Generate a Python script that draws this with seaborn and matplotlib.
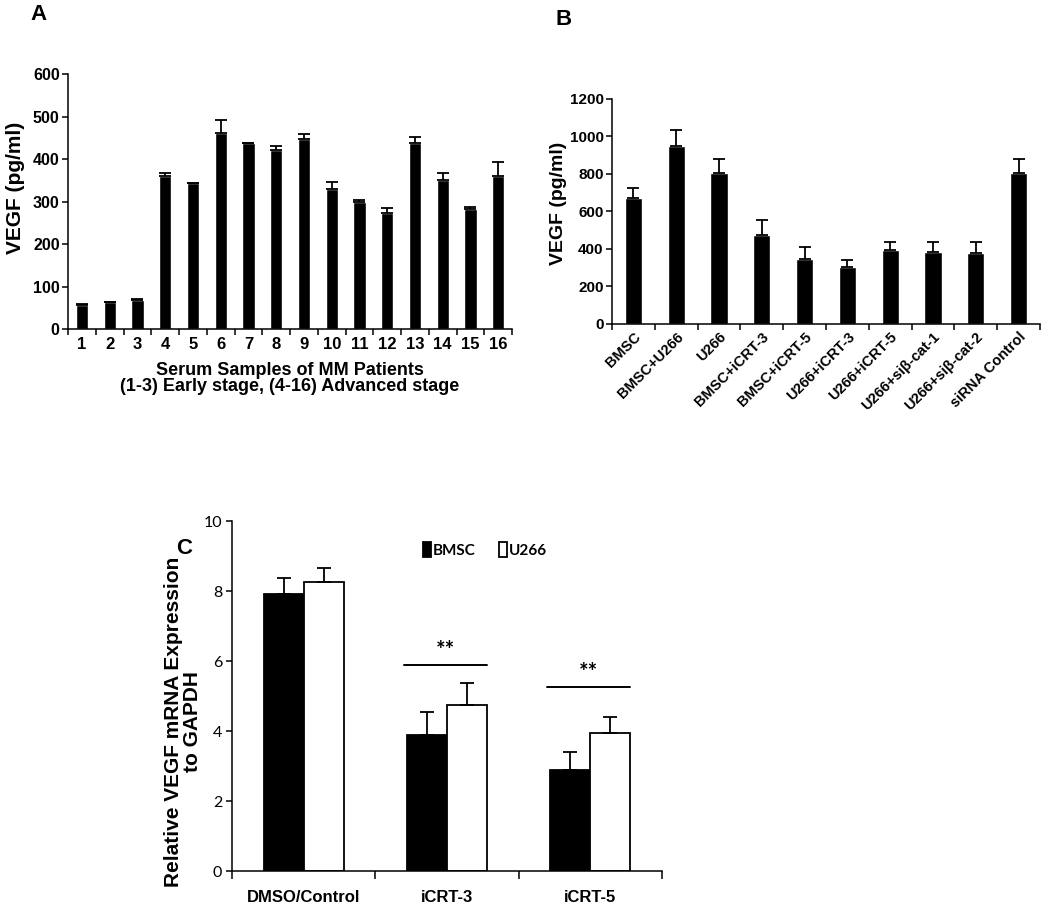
import numpy as np
import pandas as pd
import matplotlib
matplotlib.use("Agg")
from matplotlib import pyplot as plt
import seaborn as sns

# A: serum VEGF of MM patients
serum_samples = [str(i) for i in range(1, 17)]
serum_vegf = [57, 63, 69, 361, 344, 462, 438, 421, 448, 330, 298, 274, 438, 351, 283, 360]
serum_err = [1, 1, 1, 6, 0, 29, 1, 10, 10, 16, 5, 11, 15, 16, 5, 33]

# B: VEGF in co-culture supernatants
culture_groups = ["BMSC", "BMSC+U266", "U266", "BMSC+iCRT-3", "BMSC+iCRT-5",
                  "U266+iCRT-3", "U266+iCRT-5", "U266+siβ-cat-1", "U266+siβ-cat-2",
                  "siRNA Control"]
culture_vegf = [673, 947, 807, 477, 349, 303, 397, 383, 376, 807]
culture_err = [52, 88, 73, 80, 61, 39, 39, 53, 60, 73]

# C: relative VEGF mRNA
treatments = ["DMSO/Control", "iCRT-3", "iCRT-5"]
cell_lines = ["BMSC", "U266"]
bmsc_mrna = [7.91, 3.88, 2.89]
bmsc_err = [0.47, 0.66, 0.52]
u266_mrna = [8.25, 4.74, 3.93]
u266_err = [0.42, 0.62, 0.46]

sns.set_style("ticks")
plt.rcParams["font.family"] = ["Liberation Sans", "DejaVu Sans"]
plt.rcParams["font.weight"] = "bold"
plt.rcParams["axes.linewidth"] = 1.1
for k in ["text.color", "axes.labelcolor", "xtick.color", "ytick.color", "axes.edgecolor"]:
    plt.rcParams[k] = "black"

fig = plt.figure(figsize=(10.5, 9.09), dpi=100)


def add_errs(ax, errs, cap=4):
    # upper error bars at the centres of the bars seaborn drew
    for cont, err in zip(ax.containers, errs):
        xs = [p.get_x() + p.get_width() / 2 for p in cont.patches]
        ys = [p.get_height() for p in cont.patches]
        ax.errorbar(xs, ys, yerr=[np.zeros(len(err)), err], fmt="none",
                    ecolor="black", elinewidth=1.3, capsize=cap, capthick=1.3, zorder=1)


# ---- A ----
axA = fig.add_axes([0.0648, 0.638, 0.4229, 0.2805])
dfA = pd.DataFrame({"sample": serum_samples, "vegf": serum_vegf})
sns.barplot(data=dfA, x="sample", y="vegf", color="black", width=0.44,
            errorbar=None, saturation=1, ax=axA)
add_errs(axA, [serum_err], cap=4)
axA.set_xlim(-0.5, len(serum_samples) - 0.5)
axA.set_ylim(0, 600)
axA.set_yticks(range(0, 601, 100))
axA.set_xticks(np.arange(-0.5, len(serum_samples), 1), minor=True)
axA.tick_params(axis="x", which="major", length=0, labelsize=12, pad=6)
axA.tick_params(axis="x", which="minor", length=4, width=1.1)
axA.tick_params(axis="y", length=4, width=1.1, labelsize=11.5, pad=2)
axA.set_xlabel("Serum Samples of MM Patients\n(1-3) Early stage, (4-16) Advanced stage",
               fontsize=13, fontweight="bold", labelpad=7, linespacing=0.95)
axA.set_ylabel("VEGF (pg/ml)", fontsize=15, fontweight="bold", labelpad=6, y=0.555)
sns.despine(ax=axA)
fig.text(0.029, 0.984, "A", fontsize=16, fontweight="bold", va="center")

# ---- B ----
axB = fig.add_axes([0.5829, 0.6436, 0.4076, 0.2475])
dfB = pd.DataFrame({"group": culture_groups, "vegf": culture_vegf})
sns.barplot(data=dfB, x="group", y="vegf", color="black", width=0.4,
            errorbar=None, saturation=1, ax=axB)
add_errs(axB, [culture_err], cap=4)
axB.set_xlim(-0.5, len(culture_groups) - 0.5)
axB.set_ylim(0, 1200)
axB.set_yticks(range(0, 1201, 200))
axB.set_xticks(np.arange(-0.5, len(culture_groups), 1), minor=True)
axB.tick_params(axis="x", which="major", length=0, labelsize=10.5, pad=4)
axB.tick_params(axis="x", which="minor", length=4, width=1.1)
axB.tick_params(axis="y", length=4, width=1.1, labelsize=11, pad=2)
plt.setp(axB.get_xticklabels(), rotation=45, ha="right", rotation_mode="anchor")
axB.set_xlabel("")
axB.set_ylabel("VEGF (pg/ml)", fontsize=14, fontweight="bold", labelpad=2, y=0.538)
sns.despine(ax=axB)
fig.text(0.5286, 0.978, "B", fontsize=16, fontweight="bold", va="center")

# ---- C ----
axC = fig.add_axes([0.2210, 0.0418, 0.4095, 0.385])
dfC = pd.DataFrame({
    "treatment": treatments * 2,
    "cell": [cell_lines[0]] * 3 + [cell_lines[1]] * 3,
    "mrna": bmsc_mrna + u266_mrna,
})
sns.barplot(data=dfC, x="treatment", y="mrna", hue="cell",
            palette={"BMSC": "black", "U266": "white"}, edgecolor="black",
            linewidth=1.3, width=0.56, errorbar=None, saturation=1, ax=axC)
add_errs(axC, [bmsc_err, u266_err], cap=5)
axC.set_xlim(-0.5, 2.5)
axC.set_ylim(0, 10)
axC.set_yticks(range(0, 11, 2))
axC.set_xticks(np.arange(-0.5, 3, 1), minor=True)
axC.tick_params(axis="x", which="major", length=0, labelsize=12, pad=13.5)
axC.tick_params(axis="x", which="minor", length=6, width=1.1)
axC.tick_params(axis="y", length=4, width=1.1, pad=3)
for lab in axC.get_yticklabels():
    lab.set_family(["Lato", "DejaVu Sans"])
    lab.set_fontweight("normal")
    lab.set_fontsize(11.5)
axC.set_xlabel("")
axC.set_ylabel("Relative VEGF mRNA Expression\nto GAPDH", fontsize=15,
               fontweight="bold", labelpad=1, linespacing=1.0, y=0.426)
sns.despine(ax=axC)

handles, labels = axC.get_legend_handles_labels()
axC.legend(handles, labels, loc="center", bbox_to_anchor=(0.588, 0.917), ncol=2,
           frameon=False, handlelength=0.55, handleheight=1.1, handletextpad=0.12,
           columnspacing=1.5, prop={"family": ["Lato", "DejaVu Sans"],
                                     "weight": "bold", "size": 11})

# significance bars
for xc, ybar in [(1, 5.9), (2, 5.26)]:
    axC.plot([xc - 0.3, xc + 0.28], [ybar, ybar], color="black", lw=1.4)
    axC.text(xc - 0.01, ybar + 0.1, "**", ha="center", va="bottom", fontsize=16,
             fontweight="bold", family=["Lato", "DejaVu Sans"])
fig.text(0.168, 0.397, "C", fontsize=16, fontweight="bold", va="center")

fig.savefig("out.png", dpi=100)
